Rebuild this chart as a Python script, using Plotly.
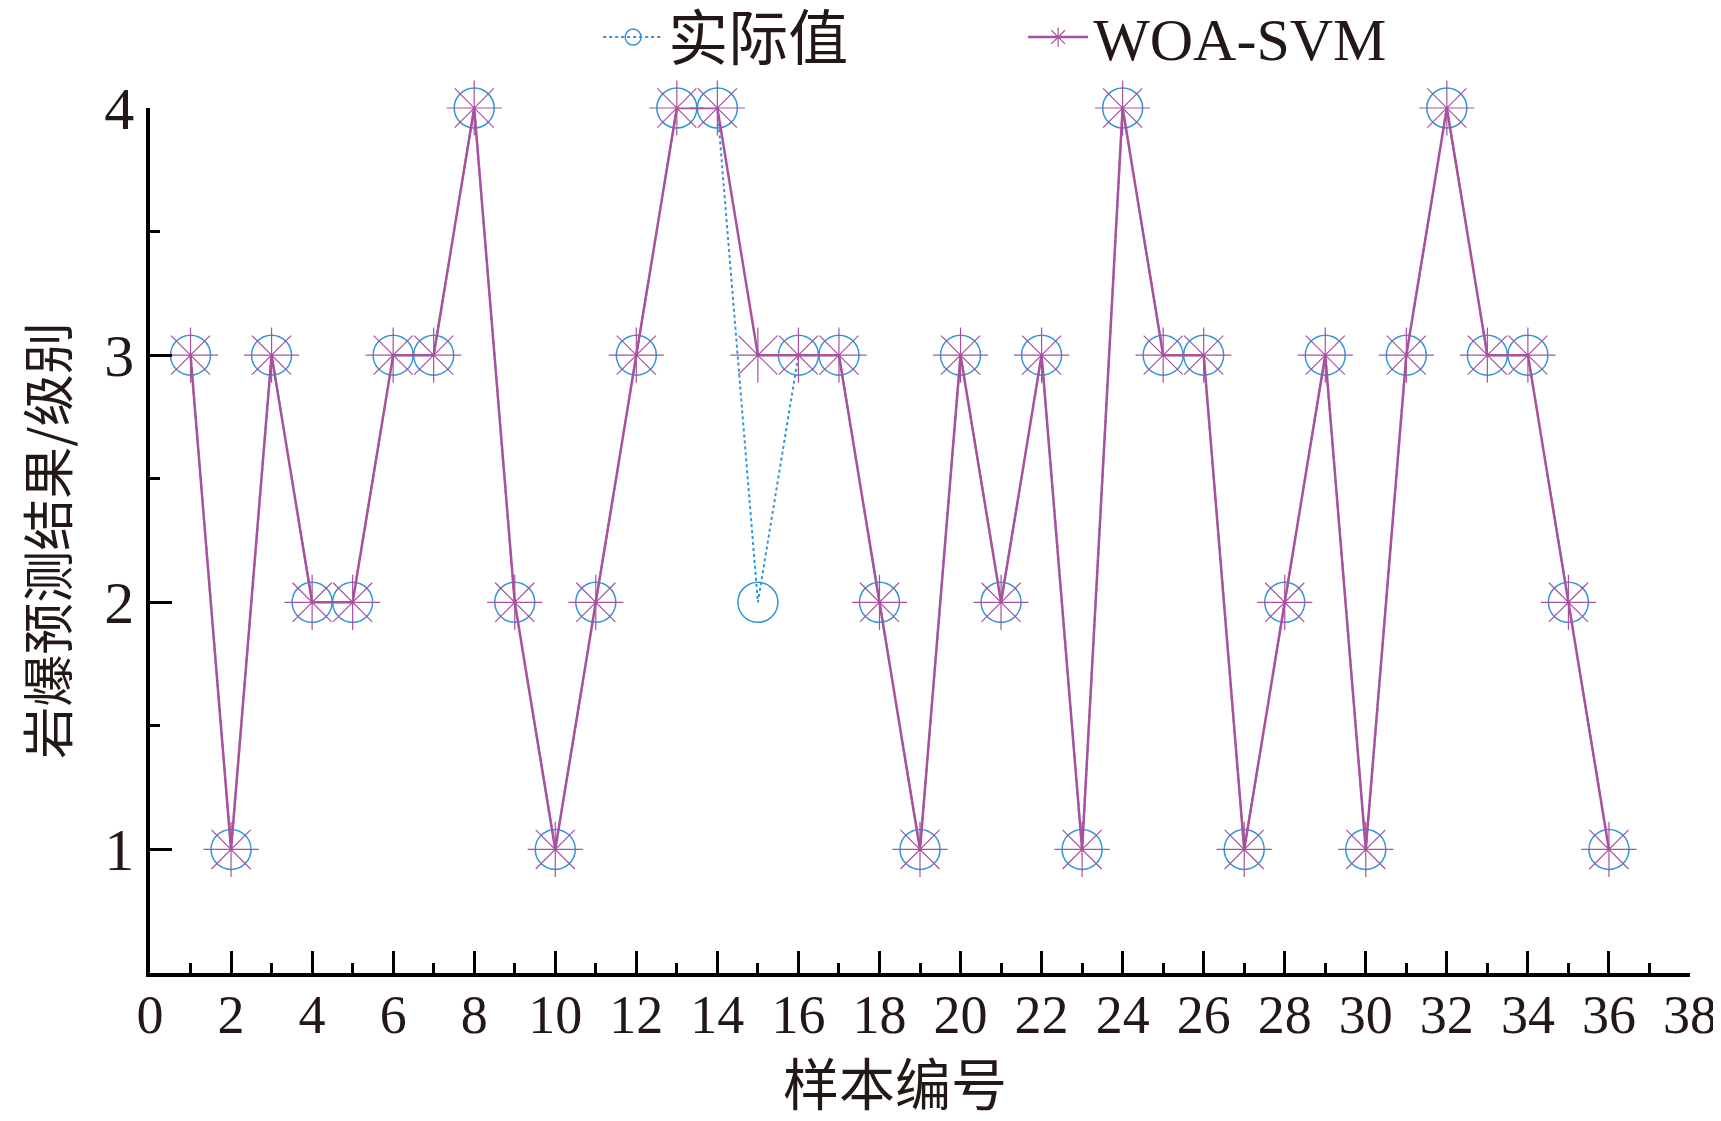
import plotly.graph_objects as go

samples = list(range(1, 37))
actual = [3, 1, 3, 2, 2, 3, 3, 4, 2, 1, 2, 3, 4, 4, 2, 3, 3, 2, 1, 3, 2, 3, 1, 4, 3, 3, 1, 2, 3, 1, 3, 4, 3, 3, 2, 1]
woa_svm = [3, 1, 3, 2, 2, 3, 3, 4, 2, 1, 2, 3, 4, 4, 3, 3, 3, 2, 1, 3, 2, 3, 1, 4, 3, 3, 1, 2, 3, 1, 3, 4, 3, 3, 2, 1]
x_ticks = list(range(0, 39, 2))
y_ticks = [1, 2, 3, 4]

BLUE = "#3494d8"
PURPLE = "#a8519e"
TXT = "#231815"

fig = go.Figure()
fig.add_trace(go.Scatter(
    x=samples, y=actual, name="实际值", mode="lines+markers",
    line=dict(color=BLUE, width=2, dash="dot"),
    marker=dict(symbol="circle-open", size=40, color=BLUE, line=dict(width=1.5, color=BLUE)),
    cliponaxis=False,
))
fig.add_trace(go.Scatter(
    x=samples, y=woa_svm, name="WOA-SVM", mode="lines+markers",
    line=dict(color=PURPLE, width=2.5),
    marker=dict(symbol="asterisk-open", size=46, color=PURPLE, line=dict(width=1.2, color=PURPLE)),
    cliponaxis=False,
))

# the page body adds an 8px offset; sizes/margins compensate so the plot area sits where the reference has it
fig.update_layout(
    width=1713, height=1113,
    margin=dict(l=142, r=31, t=100, b=148, autoexpand=False),
    paper_bgcolor="white", plot_bgcolor="white",
    font=dict(family="Liberation Serif, Times New Roman, serif", size=60, color=TXT),
    showlegend=True,
    legend=dict(
        orientation="h", x=0.291, xanchor="left", y=1.082, yanchor="middle",
        font=dict(family="Liberation Serif, Noto Sans CJK SC, serif", size=60, color=TXT),
        bgcolor="rgba(0,0,0,0)", itemwidth=60, tracegroupgap=0,
        entrywidth=350, entrywidthmode="pixels",
    ),
    xaxis=dict(
        range=[0, 38], tickvals=x_ticks, ticktext=[str(v) for v in x_ticks],
        ticks="inside", ticklen=22, tickwidth=3, tickcolor="black",
        minor=dict(dtick=1, ticks="inside", ticklen=10, tickwidth=3, tickcolor="black"),
        showline=True, linecolor="black", linewidth=3.5, showgrid=False, zeroline=False,
        automargin=False, ticklabelstandoff=-9,
        tickfont=dict(family="Liberation Serif, serif", size=54, color=TXT),
    ),
    yaxis=dict(
        range=[0.5, 4], tickvals=y_ticks, ticktext=[str(v) for v in y_ticks],
        ticks="inside", ticklen=22, tickwidth=3, tickcolor="black",
        minor=dict(tick0=0.5, dtick=0.5, ticks="inside", ticklen=10, tickwidth=3, tickcolor="black"),
        showline=True, linecolor="black", linewidth=3.5, showgrid=False, zeroline=False,
        automargin=False,
        tickfont=dict(family="Liberation Serif, serif", size=60, color=TXT),
        title=dict(text="岩爆预测结果/级别", standoff=68,
                   font=dict(family="Noto Sans CJK SC, sans-serif", size=52, color=TXT)),
    ),
    annotations=[
        dict(text="样本编号", xref="paper", yref="paper", x=0.484, y=-0.1245,
             xanchor="center", yanchor="middle", showarrow=False,
             font=dict(family="Noto Sans CJK SC, sans-serif", size=56, color=TXT)),
    ],
)

fig.write_html("out.html")
